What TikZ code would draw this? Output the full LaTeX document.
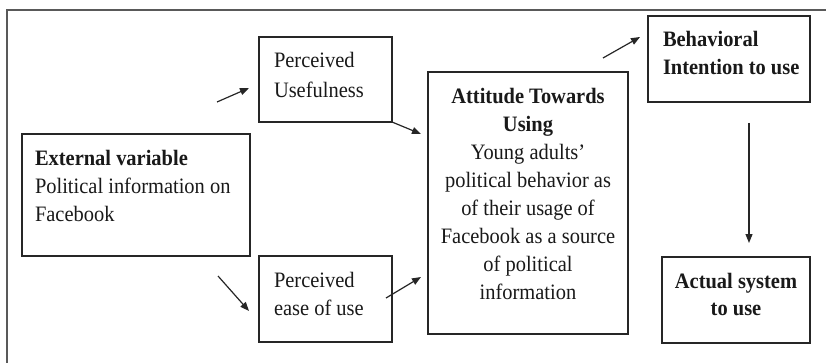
\documentclass[tikz,border=0pt]{standalone}
\usepackage{fontspec}
\setmainfont{Liberation Serif}[FakeStretch=0.93]
\usetikzlibrary{arrows.meta}
\newcommand{\mytab}[2]{\begin{tabular}[t]{@{}#1@{}}#2\end{tabular}}
\begin{document}
\begin{tikzpicture}[x=1pt,y=-1pt,
  boxnode/.style={draw=black!85, line width=1.4pt, anchor=north west, inner sep=0pt, outer sep=0pt},
  txt/.style={inner sep=0pt, outer sep=0pt, font=\fontsize{22}{28}\selectfont, text=black!90},
  arr/.style={line width=1.2pt, draw=black!85, -{Triangle[length=9pt,width=7pt]}},
  frame/.style={draw=black!65, line width=2pt}]
\useasboundingbox (0,0) rectangle (826,363);
\fill[white] (0,0) rectangle (826,363);
% outer frame (left and top only)
\coordinate (fbl) at (7,363);
\coordinate (ftl) at (7,10);
\coordinate (ftr) at (826,10);
\draw[frame] (fbl) -- (ftl) -- (ftr);
% boxes
\node[boxnode, minimum width=133pt, minimum height=85pt] (pu) at (259,37) {};
\node[boxnode, minimum width=228pt, minimum height=122pt] (ext) at (22,134) {};
\node[boxnode, minimum width=133pt, minimum height=86pt] (peou) at (259,256) {};
\node[boxnode, minimum width=200pt, minimum height=262pt] (att) at (428,72) {};
\node[boxnode, minimum width=162pt, minimum height=86pt] (beh) at (648,16) {};
\node[boxnode, minimum width=148pt, minimum height=86pt] (act) at (662,257) {};
% texts
\node[txt, anchor=base west] (extt) at (35,166) {\mytab{l}{\textbf{External variable}\\Political information on\\Facebook}};
\node[txt, anchor=base west, font=\fontsize{22}{30}\selectfont] (put) at (274,68) {\mytab{l}{Perceived\\Usefulness}};
\node[txt, anchor=base west] (peout) at (274,287) {\mytab{l}{Perceived\\ease of use}};
\node[txt, anchor=base] (attt) at (528,104) {\mytab{c}{\textbf{Attitude Towards}\\\textbf{Using}\\Young adults’\\political behavior as\\of their usage of\\Facebook as a source\\of political\\information}};
\node[txt, anchor=base west] (beht) at (663,47) {\mytab{l}{\textbf{Behavioral}\\\textbf{Intention to use}}};
\node[txt, anchor=base, font=\fontsize{22}{27}\selectfont] (actt) at (736,288) {\mytab{c}{\textbf{Actual system}\\\textbf{to use}}};
% arrow end points
\coordinate (a1s) at (217,102);
\coordinate (a1e) at (249,88);
\coordinate (a2e) at (421,134);
\coordinate (a3s) at (218,276);
\coordinate (a3e) at (249,311);
\coordinate (a4s) at (386,298);
\coordinate (a4e) at (421,277);
\coordinate (a5s) at (603,58);
\coordinate (a5e) at (640,37);
\coordinate (a6s) at (749,123);
\coordinate (a6e) at (749,243);
\draw[arr] (a1s) -- (a1e);
\draw[arr] (pu.south east) -- (a2e);
\draw[arr] (a3s) -- (a3e);
\draw[arr] (a4s) -- (a4e);
\draw[arr] (a5s) -- (a5e);
\draw[arr] (a6s) -- (a6e);
\end{tikzpicture}
\end{document}
